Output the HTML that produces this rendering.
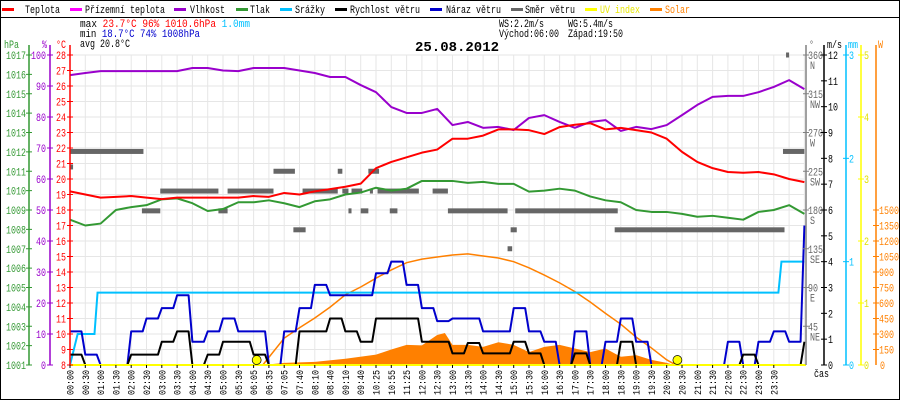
<!DOCTYPE html>
<html><head><meta charset="utf-8">
<style>
body{margin:0;background:#fff;}
svg{display:block;font-family:"Liberation Mono","DejaVu Sans Mono",monospace;}
</style></head>
<body>
<svg id="c" width="900" height="400" xmlns="http://www.w3.org/2000/svg" xml:space="preserve">
<rect x="0.5" y="0.5" width="899" height="399" fill="#fff" stroke="#000"/>
<line x1="0" y1="17.5" x2="900" y2="17.5" stroke="#000"/>
<g id="legend" font-size="11"></g>
<g font-size="11">
<text x="80" y="27">max <tspan fill="#f00">23.7°C</tspan>  <tspan fill="#f00">96%</tspan>  <tspan fill="#f00">1010.6hPa</tspan>   <tspan fill="#00c0ff">1.0mm</tspan></text>
<text x="80" y="37">min <tspan fill="#00c">18.7°C</tspan>  <tspan fill="#00c">74%</tspan>  <tspan fill="#00c">1008hPa</tspan></text>
<text x="80" y="47">avg 20.8°C</text>
<text x="499" y="27">WS:2.2m/s</text>
<text x="568" y="27">WG:5.4m/s</text>
<text x="499" y="37">Východ:06:00</text>
<text x="568" y="37">Západ:19:50</text>
<text id="title" x="415" y="51" font-size="14" font-weight="bold">25.08.2012</text>
</g>
<g id="grid"></g>
<g id="marks"></g>
<g id="axes" font-size="11"></g>
</svg>
<script>
// ---- data (index = half-hour slot, 0..48) ----
const xLabels=["00:00","00:30","01:00","01:30","02:00","02:30","03:00","03:30","04:00","04:30","05:00","05:30","06:05","06:35","07:05","07:40","08:10","08:40","09:10","09:40","10:25","10:55","11:25","12:00","12:30","13:00","13:30","14:00","14:30","15:00","15:30","16:00","16:30","17:00","17:30","18:00","18:30","19:00","19:30","20:00","20:30","21:00","21:30","22:00","22:30","23:00","23:30"];
const temperature=[19.2,19.0,18.8,18.85,18.9,18.8,18.7,18.8,18.8,18.8,18.8,18.8,18.9,18.85,19.1,19.0,19.2,19.35,19.5,19.7,20.7,21.1,21.4,21.7,21.9,22.6,22.6,22.8,23.2,23.2,23.15,22.9,23.35,23.5,23.6,23.2,23.3,23.15,23.0,22.6,21.75,21.1,20.7,20.45,20.4,20.45,20.3,20.0,19.8];
const humidity=[93.5,94.2,94.8,94.8,94.8,94.8,94.8,94.8,95.8,95.8,95,94.8,95.8,95.8,95.8,95,94.2,92.9,92.9,90.3,88,83.2,81.3,81.3,82.6,77.4,78.4,76.5,76.8,75.8,79.7,80.6,78.4,76.5,78.4,79,75.5,76.8,76.1,77.4,80.6,83.9,86.5,86.8,86.8,88,89.7,91.9,89];
const pressure=[1008.5,1008.2,1008.3,1009.0,1009.15,1009.25,1009.55,1009.6,1009.35,1008.95,1009.05,1009.4,1009.4,1009.5,1009.35,1009.15,1009.45,1009.55,1009.8,1009.9,1010.15,1010.0,1010.1,1010.5,1010.5,1010.5,1010.4,1010.45,1010.35,1010.35,1009.95,1010.0,1010.1,1010.0,1009.7,1009.5,1009.4,1009.0,1008.9,1008.9,1008.8,1008.65,1008.7,1008.6,1008.5,1008.9,1009.0,1009.25,1008.8];
const windSpeed=[0.4,0,0,0,0.4,0.4,0.9,1.3,0,0.4,0.9,0.9,0.4,0,0,1.3,1.3,1.8,1.3,0.9,1.8,1.8,1.8,0.9,0.9,0.45,0.85,0.45,0.45,0.9,0.45,0,0,0.45,0,0,0.9,0,0,0,0,0,0,0,0.4,0,0,0,0.9];
const windGust=[1.3,0.4,0,0,1.3,1.8,2.2,2.7,0.9,1.3,1.8,1.3,1.3,0,1.3,2.2,3.1,2.7,2.7,2.7,3.55,4.0,3.1,2.2,1.7,1.8,1.8,1.3,1.3,2.2,1.3,0.9,0,1.3,0,0.9,1.8,0.9,0,0,0,0,0,0.9,0,0.9,1.3,0.9,5.4];
const rainIdx=[0,0.5,1.6,1.8,46.3,46.5,48];
const rainMm=[0,0.3,0.3,0.7,0.7,1.0,1.0];
const solarTheoIdx=[12.6,14,15,16,17,18,19,20,21,22,23,24,25,26,27,28,29,30,31,32,33,34,35,36,37,38,39,39.6];
const solarTheo=[0,260,360,455,560,680,755,840,920,990,1025,1045,1065,1075,1055,1035,1000,940,870,795,710,610,500,395,270,165,50,0];
const solarIdx=[12.6,14,16,18,20,21,22,23,24,24.5,25,26,27,28,29,30,31,32,33,34,35,36,37,38,39,39.5];
const solar=[0,20,30,60,100,150,195,190,290,310,195,195,175,220,195,125,175,195,160,125,160,80,95,50,20,0];
const dirStart=[0,0,13.3,17.5,19.5,5.9,10.3,15.2,17.8,18.4,19.6,20.1,23.7,4.7,9.7,18.2,19,20.9,24.7,29.1,14.6,28.8,35.6,28.6,46.6,46.8];
const dirEnd=[4.8,0.2,14.7,17.8,20.2,9.7,13.3,17.5,18.2,19.1,19.8,22.8,24.7,5.9,10.3,18.4,19.5,21.4,28.6,35.8,15.4,29.2,46.7,28.9,48,47];
const dirDeg=[248,230,225,225,225,202,202,202,202,202,202,202,202,179,179,179,179,179,179,179,157,157,157,135,248,360];
const uvSunIdx=[12.2,39.7];
const tempTicks=[8,9,10,11,12,13,14,15,16,17,18,19,20,21,22,23,24,25,26,27,28];
const pressTicks=[1001,1002,1003,1004,1005,1006,1007,1008,1009,1010,1011,1012,1013,1014,1015,1016,1017];
const humTicks=[0,10,20,30,40,50,60,70,80,90,100];
const dirTicks=[45,90,135,180,225,270,315,360];
const dirNames=["NE","E","SE","S","SW","W","NW","N"];
const windTicks=[0,1,2,3,4,5,6,7,8,9,10,11,12];
const rainTicks=[0,1,2,3];
const uvTicks=[0,1,2,3,4,5];
const solarTicks=[0,150,300,450,600,750,900,1050,1200,1350,1500];

// ---- scales ----
const X0=70,DX=15.3,YT=55,YB=365,H=YB-YT;
const xS=i=>X0+i*DX;
const yT=v=>YB-(v-8)/20*H;
const yH=v=>YB-v/100*H;
const yP=v=>YB-(v-1001)/16*H;
const yW=v=>YB-v/12*H;
const yR=v=>YB-v/3*H;
const yS=v=>YB-v/3000*H;
const yU=v=>YB-v/5*H;
const yD=v=>YB-v/360*H;

const NS="http://www.w3.org/2000/svg";
function mk(parent,tag,attrs){const e=document.createElementNS(NS,tag);for(const k in attrs)e.setAttribute(k,attrs[k]);parent.appendChild(e);return e;}
const grid=document.getElementById('grid'),marks=document.getElementById('marks'),axes=document.getElementById('axes'),legend=document.getElementById('legend');

// legend
const legItems=[["Teplota","#f00",2,25],["Přízemní teplota","#f0f",70,85],["Vlhkost","#90c",174,190],["Tlak","#393",236,250],["Srážky","#00c0ff",280,295],["Rychlost větru","#000",335,350],["Náraz větru","#00c",430,446],["Směr větru","#666",511,525],["UV index","#ff0",585,600],["Solar","#ff8000",650,665]];
legItems.forEach(([t,c,sx,tx])=>{
  const r=mk(legend,'rect',{x:sx,y:8,width:12,height:3,fill:c});
  
  
  const tt=mk(legend,'text',{x:tx,y:13,fill:(c==="#ff0"?"#e8e800":c==="#ff8000"?"#ff8000":"#000")});
  tt.textContent=t;
  
  
});

// grid
for(let i=0;i<=48;i++){const l=mk(grid,'line',{x1:xS(i),y1:YT,x2:xS(i),y2:YB,stroke:"#e6e6e6"});

}
tempTicks.forEach(t=>{const l=mk(grid,'line',{x1:X0,y1:yT(t),x2:805,y2:yT(t),stroke:"#e6e6e6"});

});

// solar measured area
{let d="M"+xS(solarIdx[0])+","+YB;solarIdx.forEach((v,k)=>d+=" L"+xS(v)+","+yS(solar[k]));d+=" L"+xS(solarIdx[solarIdx.length-1])+","+YB+"Z";
const p=mk(marks,'path',{d,fill:"#ff8000"});

}
// solar theoretical
{const p=mk(marks,'polyline',{points:solarTheoIdx.map((v,k)=>xS(v)+","+yS(solarTheo[k])).join(" "),fill:"none",stroke:"#ff8000","stroke-width":1.5});

}
// rain
{let pts=rainIdx.map((v,k)=>xS(v)+","+yR(rainMm[k])).join(" ");
const p=mk(marks,'polyline',{points:pts,fill:"none",stroke:"#00c0ff","stroke-width":2});

}
// direction
dirDeg.forEach((d,k)=>{const r=mk(marks,'rect',{x:xS(dirStart[k]),y:yD(d)-2.5,width:Math.max(3,(dirEnd[k]-dirStart[k])*DX),height:5,fill:"#666"});

});
function line(arr,sc,color,name,step){
  const pts=[];
  arr.forEach((v,i)=>{
    pts.push(xS(i)+","+sc(v));
    if(step&&i<arr.length-1)pts.push(xS(i+0.75)+","+sc(v));
  });
  const p=mk(marks,'polyline',{points:pts.join(" "),fill:"none",stroke:color,"stroke-width":2,"stroke-linejoin":"round"});
  
  
}
line(pressure,yP,"#393","pressure-line");
line(humidity,yH,"#90c","humidity-line");
line(temperature,yT,"#f00","temperature-line");
line(windGust,yW,"#00c","wind-gust-line",true);
line(windSpeed,yW,"#000","wind-speed-line",true);
// UV baseline
{const l=mk(marks,'line',{x1:X0,y1:YB,x2:806,y2:YB,stroke:"#ff0","stroke-width":2});

}
uvSunIdx.forEach(i=>{const c=mk(marks,'circle',{cx:xS(i),cy:YB-5,r:4.5,fill:"#ff0",stroke:"#000","stroke-width":0.7});

});

// axes
function axis(x,color,ticks,sc,labX,anchor,name,lblColor){
  const l=mk(axes,'line',{x1:x,y1:YT-10,x2:x,y2:YB,stroke:color,"stroke-width":1.5});
  
  
  ticks.forEach(t=>{
    mk(axes,'line',{x1:x-3,y1:sc(t),x2:x+3,y2:sc(t),stroke:color});
    const tx=mk(axes,'text',{x:labX,y:sc(t)+4,fill:lblColor||color,"text-anchor":anchor});
    tx.textContent=t;
    
    
  });
}
axis(29,"#393",pressTicks,yP,26,"end","pressure-axis");
axis(50,"#90c",humTicks,yH,46,"end","humidity-axis");
axis(70,"#f00",tempTicks,yT,66,"end","temperature-axis");
axis(806,"#808080",dirTicks,yD,808,"start","direction-axis","#666");
dirTicks.forEach((t,k)=>{const tx=mk(axes,'text',{x:810,y:yD(t)+14,fill:"#666"});tx.textContent=dirNames[k];

});
axis(824,"#000",windTicks,yW,828,"start","wind-axis");
axis(846,"#00c0ff",rainTicks,yR,849,"start","rain-axis");
axis(861,"#ff0",uvTicks,yU,864,"start","uv-axis","#e0e000");
axis(876,"#ff8000",solarTicks.slice(1),yS,879,"start","solar-axis");
mk(axes,'text',{x:880,y:YB+4,fill:"#ff8000"}).textContent="0";
// axis titles
[["hPa",4,"#393"],["%",42,"#90c"],["°C",56,"#f00"],["°",809,"#666"],["m/s",827,"#000"],["mm",848,"#00c0ff"],["W",878,"#ff8000"]].forEach(([t,x,c])=>{
  const tx=mk(axes,'text',{x,y:48,fill:c});tx.textContent=t;
  
  
});
// x labels
xLabels.forEach((t,i)=>{
  const x=xS(i);
  mk(axes,'line',{x1:x,y1:YB,x2:x,y2:YB+3,stroke:"#000"});
  const tx=mk(axes,'text',{x:0,y:0,transform:`translate(${x+3.5},395) rotate(-90)`,"font-size":10});
  tx.textContent=t;
  
  
});
{const tx=mk(axes,'text',{x:814,y:377});tx.textContent="čas";

}

// narrow pixel-font emulation: ~5px per character
document.querySelectorAll('svg text').forEach(t=>{
  if(t.id==='title')return;
  const n=t.textContent.length;
  t.setAttribute('textLength',(n*5).toFixed(1));
  t.setAttribute('lengthAdjust','spacingAndGlyphs');
});
</script>
</body></html>
